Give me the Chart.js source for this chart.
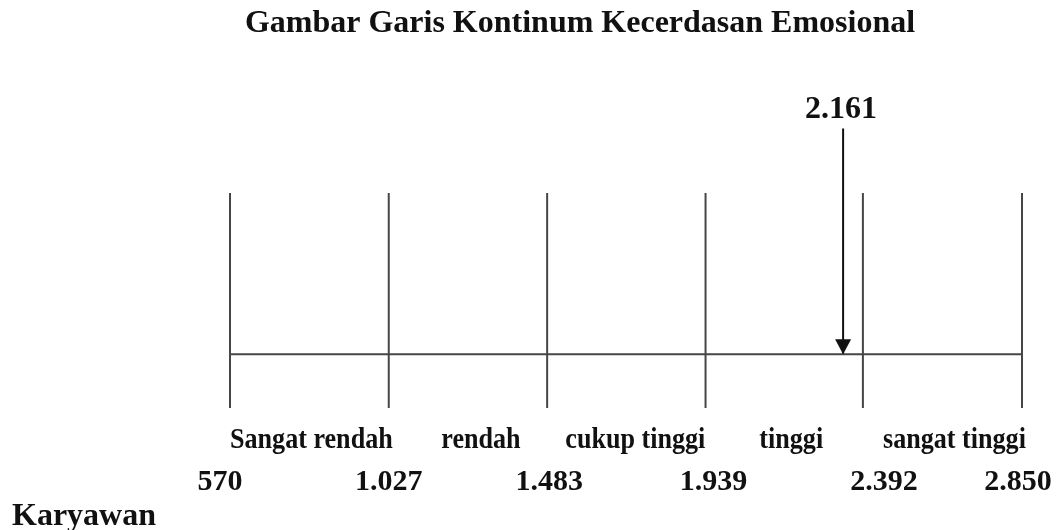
<!DOCTYPE html>
<html>
<head>
<meta charset="utf-8">
<script src="https://cdn.jsdelivr.net/npm/chart.js@4/dist/chart.umd.min.js"></script>
<style>
  html, body { margin: 0; padding: 0; background: #ffffff; }
  #wrap { width: 1060px; height: 530px; position: relative; }
</style>
</head>
<body>
<div id="wrap"><canvas id="c" width="1060" height="530"></canvas></div>
<script>
// ---- data ----
const titleText = 'Gambar Garis Kontinum Kecerdasan Emosional';
const boundaries = [570, 1027, 1483, 1939, 2392, 2850];
const boundaryLabels = ['570', '1.027', '1.483', '1.939', '2.392', '2.850'];
const categories = ['Sangat rendah', 'rendah', 'cukup tinggi', 'tinggi', 'sangat tinggi'];
const rowLabel = 'Karyawan';
const scoreLabel = '2.161';
// where the arrow is drawn on the continuum in the picture (scale units)
const arrowPosition = 2335;
// vertical extent of the diagram (unitless y scale)
const tickLow = 0, tickHigh = 1, baseLineY = 0.25, arrowTopY = 1.3;

// ---- layout (text nudges in pixels, as placed in the original drawing) ----
const categoryNudge = [2, 13, 9, 7, 12];
const numberNudge = [-10, 0, 2, 8, 21, -4];

const lineColor = '#464646';

const datasets = [];
boundaries.forEach(b => {
  datasets.push({
    data: [{x: b, y: tickLow}, {x: b, y: tickHigh}],
    showLine: true, borderColor: lineColor, borderWidth: 2,
    pointRadius: 0, clip: false
  });
});
datasets.push({
  data: [{x: boundaries[0], y: baseLineY}, {x: boundaries[boundaries.length - 1], y: baseLineY}],
  showLine: true, borderColor: lineColor, borderWidth: 2, pointRadius: 0, clip: false
});
datasets.push({
  data: [{x: arrowPosition, y: arrowTopY}, {x: arrowPosition, y: baseLineY}],
  showLine: true, borderColor: '#111111', borderWidth: 2, pointRadius: 0, clip: false
});

const textPlugin = {
  id: 'texts',
  afterDatasetsDraw(chart) {
    const ctx = chart.ctx;
    const xs = chart.scales.x, ys = chart.scales.y;
    ctx.save();
    ctx.fillStyle = '#111111';

    // arrowhead
    const ax = xs.getPixelForValue(arrowPosition);
    const ay = ys.getPixelForValue(baseLineY);
    ctx.beginPath();
    ctx.moveTo(ax, ay);
    ctx.lineTo(ax - 8, ay - 15);
    ctx.lineTo(ax + 8, ay - 15);
    ctx.closePath();
    ctx.fill();

    // title
    ctx.textAlign = 'center';
    ctx.textBaseline = 'alphabetic';
    ctx.font = 'bold 32px "Liberation Serif", "Times New Roman", serif';
    ctx.fillText(titleText, 580, 32);

    // score label above the arrow
    ctx.font = 'bold 32px "Liberation Serif", "Times New Roman", serif';
    ctx.fillText(scoreLabel, ax - 2, 118);

    // category labels (condensed)
    ctx.font = 'bold 30px "Liberation Serif", "Times New Roman", serif';
    for (let i = 0; i < categories.length; i++) {
      const mid = xs.getPixelForValue((boundaries[i] + boundaries[i + 1]) / 2) + categoryNudge[i];
      ctx.save();
      ctx.translate(mid, 448);
      ctx.scale(0.87, 1);
      ctx.fillText(categories[i], 0, 0);
      ctx.restore();
    }

    // boundary numbers
    ctx.font = 'bold 30px "Liberation Serif", "Times New Roman", serif';
    boundaries.forEach((b, i) => {
      let px = xs.getPixelForValue(b) + numberNudge[i];
      const w = ctx.measureText(boundaryLabels[i]).width;
      px = Math.min(px, chart.width - 4 - w / 2);
      ctx.fillText(boundaryLabels[i], px, 490);
    });

    // row label
    ctx.textAlign = 'left';
    ctx.font = 'bold 32px "Liberation Serif", "Times New Roman", serif';
    ctx.fillText(rowLabel, 12, 525);
    ctx.restore();
  }
};

new Chart(document.getElementById('c'), {
  type: 'scatter',
  data: { datasets },
  options: {
    responsive: false,
    animation: false,
    devicePixelRatio: 1,
    layout: { padding: { left: 230, right: 38, top: 193, bottom: 122 } },
    plugins: { legend: { display: false }, tooltip: { enabled: false }, title: { display: false } },
    scales: {
      x: { type: 'linear', min: boundaries[0], max: boundaries[boundaries.length - 1], display: false },
      y: { type: 'linear', min: tickLow, max: tickHigh, display: false }
    }
  },
  plugins: [textPlugin]
});
</script>
</body>
</html>
